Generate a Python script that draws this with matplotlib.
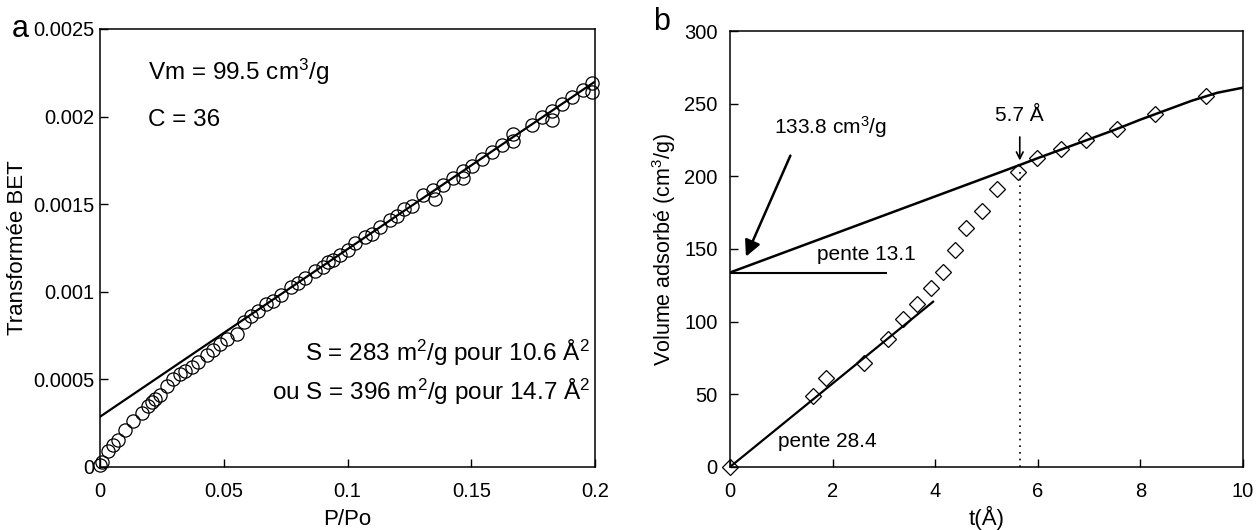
import matplotlib.pyplot as plt
from matplotlib.ticker import FuncFormatter

plt.rcParams['font.family'] = ['Liberation Sans', 'DejaVu Sans']
plt.rcParams['mathtext.fontset'] = 'custom'
plt.rcParams['mathtext.rm'] = 'Liberation Sans'
plt.rcParams['mathtext.it'] = 'Liberation Sans:italic'

# panel a : BET transform
p_po = [0.0, 0.0007, 0.0034, 0.0054, 0.0074, 0.0101, 0.0135, 0.0168, 0.0195, 0.0209,
        0.0222, 0.0242, 0.0269, 0.0296, 0.0323, 0.0343, 0.0370, 0.0397, 0.0431, 0.0458,
        0.0485, 0.0512, 0.0552, 0.0580, 0.0610, 0.0640, 0.0670, 0.0700, 0.0730, 0.0770,
        0.0800, 0.0830, 0.0870, 0.0900, 0.0920, 0.0940, 0.0970, 0.1000, 0.1030, 0.1070,
        0.1100, 0.1130, 0.1170, 0.1200, 0.1230, 0.1260, 0.1306, 0.1347, 0.1353, 0.1387,
        0.1428, 0.1468, 0.1468, 0.1502, 0.1542, 0.1583, 0.1623, 0.1670, 0.1670, 0.1744,
        0.1785, 0.1825, 0.1825, 0.1865, 0.1906, 0.1953, 0.1987, 0.1987]
bet = [0.00001, 0.00003, 0.00009, 0.000126, 0.000154, 0.00021, 0.00026, 0.00031, 0.00035, 0.00037,
       0.00039, 0.00041, 0.00046, 0.00050, 0.00053, 0.00055, 0.00057, 0.00060, 0.00064, 0.00067,
       0.00070, 0.00073, 0.00076, 0.00083, 0.00086, 0.00089, 0.00093, 0.00095, 0.00098, 0.00103,
       0.00105, 0.00108, 0.00112, 0.00114, 0.00117, 0.00118, 0.00121, 0.00124, 0.00128, 0.00131,
       0.00133, 0.00137, 0.00141, 0.00143, 0.00147, 0.00149, 0.00155, 0.00158, 0.00153, 0.00161,
       0.00165, 0.00169, 0.00165, 0.00172, 0.00176, 0.00180, 0.00184, 0.00190, 0.00186, 0.00195,
       0.00200, 0.00203, 0.00198, 0.00207, 0.00211, 0.00215, 0.00219, 0.00214]
bet_fit_x = [0.0, 0.2]
bet_fit_y = [0.000287, 0.0022]

# panel b : t-plot
t_vals = [0, 1.61, 1.88, 2.61, 3.09, 3.37, 3.64, 3.92, 4.16, 4.39,
          4.61, 4.91, 5.21, 5.62, 5.98, 6.45, 6.95, 7.55, 8.28, 9.28]
vol = [0, 48.9, 61, 71.5, 87.9, 101.5, 112.4, 123, 134.4, 149.3,
       164.2, 176.4, 191, 203.2, 212.4, 218.6, 225, 232.3, 242.7, 255.3]
curve_t = [0, 5.65, 6.0, 6.5, 7.0, 7.5, 8.0, 8.5, 9.0, 9.5, 10]
curve_v = [133.8, 207.8, 212.5, 219, 225.5, 232, 239, 245.5, 252, 257.5, 261]
steep_t = [0, 3.96]
steep_v = [0, 113.7]
t_knee = 5.65

fig = plt.figure(figsize=(12.57, 5.30), dpi=100)
ax1 = fig.add_axes([0.0796, 0.1189, 0.3938, 0.8264])
ax2 = fig.add_axes([0.5807, 0.1189, 0.4081, 0.8226])

ax1.plot(p_po, bet, 'o', mfc='none', mec='black', ms=9.5, mew=0.9, clip_on=False)
ax1.plot(bet_fit_x, bet_fit_y, color='black', lw=1.6)
ax1.set_xlim(0, 0.2)
ax1.set_ylim(0, 0.0025)
ax1.set_xticks([0, 0.05, 0.1, 0.15, 0.2])
ax1.set_yticks([0, 0.0005, 0.001, 0.0015, 0.002, 0.0025])
fmt = FuncFormatter(lambda v, pos: '%g' % v)
ax1.xaxis.set_major_formatter(fmt)
ax1.yaxis.set_major_formatter(fmt)
ax1.tick_params(axis='x', pad=11)
ax1.tick_params(axis='y', pad=4)
ax1.set_xlabel('P/Po', fontsize=16)
ax1.set_ylabel('Transformée BET', fontsize=16)
ax1.xaxis.set_label_coords(0.5, -0.095)
ax1.yaxis.set_label_coords(-0.145, 0.5)

ax1.text(0.0194, 0.002255, 'Vm = 99.5 cm$^3$/g', fontsize=17.5, va='center')
ax1.text(0.0194, 0.00198, 'C = 36', fontsize=17.5, va='center')
ax1.text(0.198, 0.00065, 'S = 283 m$^2$/g pour 10.6 Å$^2$', fontsize=17.5, ha='right', va='center')
ax1.text(0.198, 0.00043, 'ou S = 396 m$^2$/g pour 14.7 Å$^2$', fontsize=17.5, ha='right', va='center')

ax2.plot(t_vals, vol, 'D', mfc='none', mec='black', ms=8.5, mew=0.9, clip_on=False)
ax2.plot(curve_t, curve_v, color='black', lw=1.8)
ax2.plot(steep_t, steep_v, color='black', lw=1.6)
ax2.plot([0, 3.05], [133.8, 133.8], color='black', lw=1.5)
ax2.plot([t_knee, t_knee], [0, 207.8], color='black', lw=1.2, ls=(0, (1, 3)))
ax2.set_xlim(0, 10)
ax2.set_ylim(0, 300)
ax2.set_xticks([0, 2, 4, 6, 8, 10])
ax2.set_yticks([0, 50, 100, 150, 200, 250, 300])
ax2.tick_params(axis='x', pad=11)
ax2.tick_params(axis='y', pad=9)
ax2.set_xlabel('t(Å)', fontsize=16)
ax2.set_ylabel('Volume adsorbé (cm$^3$/g)', fontsize=15.5)
ax2.xaxis.set_label_coords(0.5, -0.09)
ax2.yaxis.set_label_coords(-0.101, 0.5)

ax2.annotate('', xy=(0.29, 143), xytext=(1.2, 216),
             arrowprops=dict(arrowstyle='-|>', color='black', lw=1.8, mutation_scale=24))
ax2.text(1.95, 234, '133.8 cm$^3$/g', fontsize=15, ha='center', va='center')
ax2.annotate('', xy=(t_knee, 209), xytext=(t_knee, 229),
             arrowprops=dict(arrowstyle='->', color='black', lw=1.2, mutation_scale=12))
ax2.text(t_knee, 242, '5.7 Å', fontsize=15, ha='center', va='center')
ax2.text(2.66, 146, 'pente 13.1', fontsize=15, ha='center', va='center')
ax2.text(1.9, 17.4, 'pente 28.4', fontsize=15, ha='center', va='center')

for ax in (ax1, ax2):
    ax.tick_params(direction='in', length=6, width=1, labelsize=14.5, top=False, right=False)
    for sp in ax.spines.values():
        sp.set_linewidth(1.1)

fig.text(0.0095, 0.930, 'a', fontsize=22, va='baseline')
fig.text(0.5195, 0.943, 'b', fontsize=22, va='baseline')

fig.savefig('out.png', dpi=100)
